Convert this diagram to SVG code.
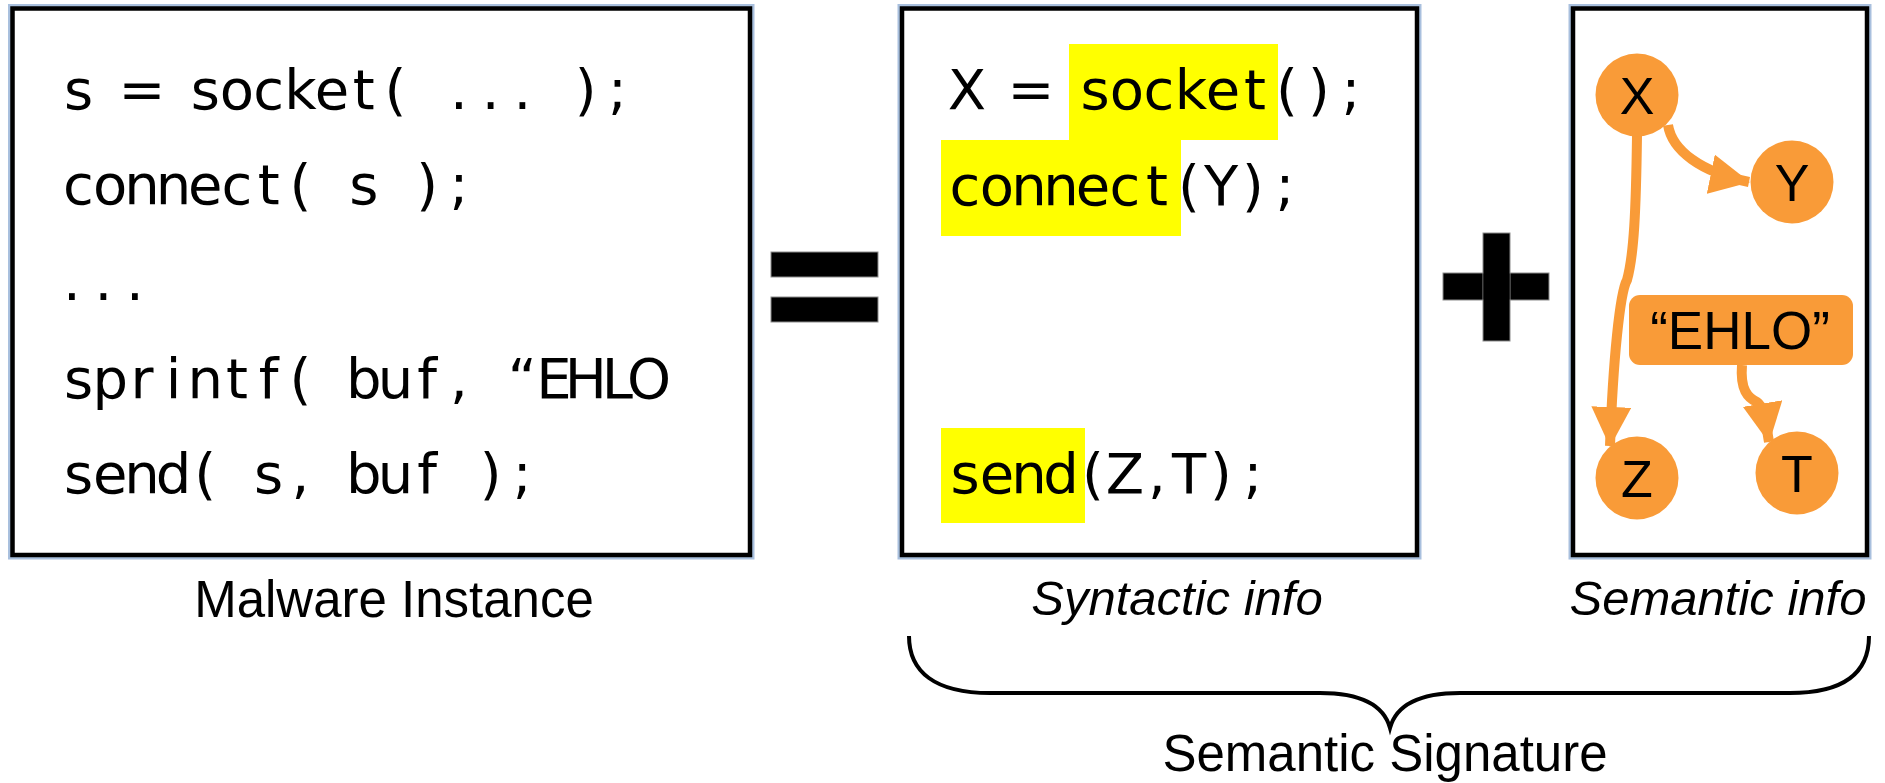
<svg xmlns="http://www.w3.org/2000/svg" width="1885" height="783" viewBox="0 0 1885 783">
  <style>
    .halo { fill: none; stroke: #a9c0de; stroke-width: 9; }
    .frame { fill: #ffffff; stroke: #000000; stroke-width: 4.5; }
    .code { font-family: "DejaVu Sans", Verdana, sans-serif; font-size: 56px; fill: #000000; text-anchor: middle; }
    .hl { fill: #ffff00; }
    .caption { font-family: "Liberation Sans", Arial, sans-serif; font-size: 51px; fill: #000000; text-anchor: middle; }
    .caption-it { font-family: "Liberation Sans", Arial, sans-serif; font-size: 49px; font-style: italic; fill: #000000; text-anchor: middle; }
    .node { fill: #f99b38; }
    .node-label { font-family: "Liberation Sans", Arial, sans-serif; font-size: 52px; fill: #000000; text-anchor: middle; }
    .edge { fill: none; stroke: #f99b38; stroke-width: 10; marker-end: url(#head); }
    .op { fill: #000000; stroke: #8c8c8c; stroke-width: 1; }
  </style>
  <defs>
    <marker id="head" markerUnits="userSpaceOnUse" viewBox="0 0 40 40" markerWidth="40" markerHeight="40" refX="39" refY="20" orient="auto">
      <path d="M0,0 L40,20 L0,40 Z" fill="#f99b38"/>
    </marker>
  </defs>

  <!-- Left panel: concrete code -->
  <g id="malware-instance">
    <rect class="halo" x="12.5" y="8.5" width="737.5" height="546.5"/>
    <rect class="frame" x="12.5" y="8.5" width="737.5" height="546.5"/>
    <text class="code" y="109" x="78.5 110.2 141.9 173.6 205.3 237 268.7 300.4 332.1 363.8 395.5 427.2 458.9 490.6 522.3 554 585.7 617.4">s = socket( ... );</text>
    <text class="code" y="204" x="78.5 110.2 141.9 173.6 205.3 237 268.7 300.4 332.1 363.8 395.5 427.2 458.9">connect( s );</text>
    <text class="code" y="300" x="72 103.5 135">...</text>
    <text class="code" y="398" x="78.5 110.2 141.9 173.6 205.3 237 268.7 300.4 332.1 363.8 395.5 427.2 458.9 490.6 522.3 554 585.7 617.4 649.1">sprintf( buf, “EHLO</text>
    <text class="code" y="493" x="78.5 110.2 141.9 173.6 205.3 237 268.7 300.4 332.1 363.8 395.5 427.2 458.9 490.6 522.3">send( s, buf );</text>
    <text class="caption" x="394" y="617">Malware Instance</text>
  </g>

  <!-- "=" operator -->
  <g id="equals">
    <rect class="op" x="771" y="252" width="107" height="25"/>
    <rect class="op" x="771" y="297" width="107" height="25"/>
  </g>

  <!-- Middle panel: syntactic skeleton -->
  <g id="syntactic-info">
    <rect class="halo" x="902" y="8.5" width="515" height="546.5"/>
    <rect class="frame" x="902" y="8.5" width="515" height="546.5"/>
    <rect class="hl" x="1069" y="44" width="209" height="96"/>
    <rect class="hl" x="941" y="140" width="240" height="96"/>
    <rect class="hl" x="941" y="428" width="144" height="95"/>
    <text class="code" y="109" x="967 999 1031 1063 1095 1127 1159 1191 1223 1255 1287 1319 1351">X = socket();</text>
    <text class="code" y="205" x="965 997 1029 1061 1093 1125 1157 1189 1221 1253 1285">connect(Y);</text>
    <text class="code" y="493" x="965 997 1029 1061 1093 1125 1157 1189 1221 1253">send(Z,T);</text>
    <text class="caption-it" x="1177" y="615">Syntactic info</text>
  </g>

  <!-- "+" operator -->
  <g id="plus">
    <rect class="op" x="1443" y="273" width="106" height="27"/>
    <rect class="op" x="1483" y="233" width="27" height="108"/>
    <rect x="1483.5" y="273.5" width="26" height="26" fill="#000000"/>
  </g>

  <!-- Right panel: dependency graph -->
  <g id="semantic-info">
    <rect class="halo" x="1573" y="8.5" width="294" height="546.5"/>
    <rect class="frame" x="1573" y="8.5" width="294" height="546.5"/>
    <text class="caption-it" x="1718" y="615">Semantic info</text>
  </g>

  <g id="connectors">
    <path class="edge" d="M1637,136 C1636,210 1634,255 1627,280 C1620,292 1613,360 1610,446"/>
    <path class="edge" d="M1668,125 C1672,150 1700,172 1749,182"/>
    <path class="edge" d="M1742,365 C1740,390 1748,398 1757,402 C1764,407 1765,418 1769,442"/>
  </g>

  <g id="node-x">
    <circle class="node" cx="1637" cy="95" r="41.5"/>
    <text class="node-label" x="1637" y="114">X</text>
  </g>
  <g id="node-y">
    <circle class="node" cx="1792" cy="182" r="41.5"/>
    <text class="node-label" x="1792" y="201">Y</text>
  </g>
  <g id="node-ehlo">
    <rect class="node" x="1629" y="295" width="224" height="70" rx="11"/>
    <text class="node-label" x="1740" y="349" style="font-size:53px">“EHLO”</text>
  </g>
  <g id="node-z">
    <circle class="node" cx="1637" cy="478" r="41.5"/>
    <text class="node-label" x="1637" y="497">Z</text>
  </g>
  <g id="node-t">
    <circle class="node" cx="1797" cy="473" r="41.5"/>
    <text class="node-label" x="1797" y="492">T</text>
  </g>

  <!-- Brace grouping the two right panels -->
  <g id="semantic-signature">
    <path d="M909,636 C909,672 935,693 990,693 L1320,693 C1362,693 1384,706 1390,728 C1396,706 1418,693 1460,693 L1790,693 C1845,693 1869,672 1869,636" fill="none" stroke="#000000" stroke-width="4"/>
    <text class="caption" x="1385" y="771">Semantic Signature</text>
  </g>
</svg>
